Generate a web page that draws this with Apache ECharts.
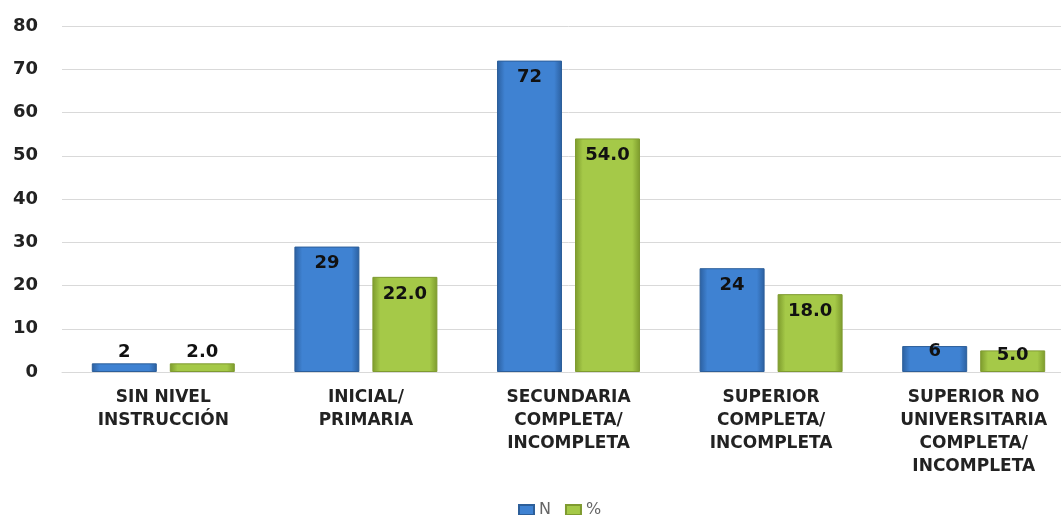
<!DOCTYPE html>
<html><head><meta charset="utf-8">
<script src="https://cdn.jsdelivr.net/npm/echarts@6/dist/echarts.min.js"></script>
<style>html,body{margin:0;padding:0;background:#fff;overflow:hidden}#c{width:1075px;height:515px}</style>
</head><body><div id="c"></div>
<script>
const categories = ['SIN NIVEL\nINSTRUCCIÓN','INICIAL/\nPRIMARIA','SECUNDARIA\nCOMPLETA/\nINCOMPLETA','SUPERIOR\nCOMPLETA/\nINCOMPLETA','SUPERIOR NO\nUNIVERSITARIA\nCOMPLETA/\nINCOMPLETA'];
const seriesN = [2, 29, 72, 24, 6];
const seriesPct = [2.0, 22.0, 54.0, 18.0, 5.0];
const yTicks = {min: 0, max: 80, interval: 10};

const chart = echarts.init(document.getElementById('c'));
function grad(edge, mid) {
  return new echarts.graphic.LinearGradient(0,0,1,0,[
    {offset:0,color:edge},{offset:0.12,color:mid},{offset:0.5,color:mid},{offset:0.88,color:mid},{offset:1,color:edge}
  ]);
}
const baseLbl = {show:true, color:'#111', fontWeight:'bold', fontSize:18, fontFamily:'DejaVu Sans'};
function itemsFor(values) {
  return values.map(v => {
    let label;
    if (v < 4) label = {position:'top', distance:2};
    else if (v < 10) label = {position:'insideTop', distance:-4};
    else label = {position:'insideTop', distance:8};
    return {value:v, label};
  });
}
chart.setOption({
  animation:false,
  grid:{left:62, top:26, right:0, bottom:143, containLabel:false},
  legend:{top:497, left:513, itemWidth:15, itemHeight:10, itemGap:14,
    textStyle:{color:'#666', fontSize:16, fontFamily:'DejaVu Sans'},
    data:[{name:'N', icon:'rect'},{name:'%', icon:'rect'}]},
  xAxis:{type:'category', data:categories,
    axisLine:{lineStyle:{color:'#d9d9d9'}}, axisTick:{show:false},
    axisLabel:{interval:0, color:'#222', fontWeight:'bold', fontSize:17, lineHeight:23, margin:14, fontFamily:'DejaVu Sans'}},
  yAxis:{type:'value', min:yTicks.min, max:yTicks.max, interval:yTicks.interval,
    axisLine:{show:false}, axisTick:{show:false},
    splitLine:{lineStyle:{color:'#d9d9d9', width:1}},
    axisLabel:{color:'#222', fontWeight:'bold', fontSize:18, margin:24, fontFamily:'DejaVu Sans'}},
  series:[
    {name:'N', type:'bar', data:itemsFor(seriesN), barWidth:65, barGap:'20%',
      itemStyle:{color:grad('#2b5f9f','#3f82d2'), borderColor:'#2d5f9a', borderWidth:1},
      label:Object.assign({}, baseLbl, {formatter:p=>String(p.value)})},
    {name:'%', type:'bar', data:itemsFor(seriesPct), barWidth:65,
      itemStyle:{color:grad('#7c9a2c','#a5c948'), borderColor:'#7f9b30', borderWidth:1},
      label:Object.assign({}, baseLbl, {formatter:p=>p.value.toFixed(1)})}
  ]
});
</script></body></html>
